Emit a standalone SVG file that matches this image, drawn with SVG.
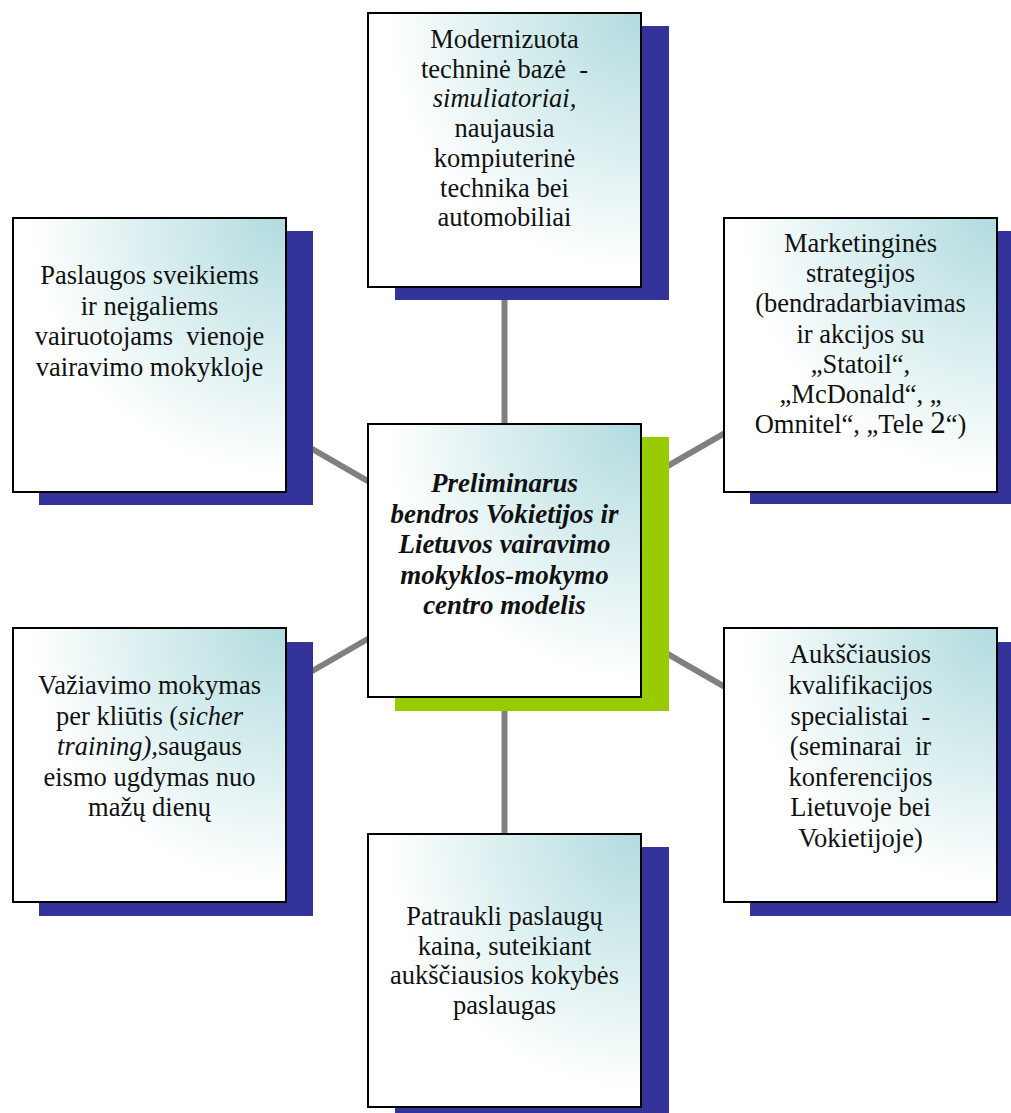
<svg xmlns="http://www.w3.org/2000/svg" width="1011" height="1113" viewBox="0 0 1011 1113">
<defs>
<radialGradient id="fill" cx="1" cy="0" r="1.1" gradientUnits="objectBoundingBox">
<stop offset="0" stop-color="#b1dbdf"/>
<stop offset="0.45" stop-color="#d9eeef"/>
<stop offset="0.85" stop-color="#ffffff"/>
</radialGradient>
</defs>
<style>
.box{fill:url(#fill);stroke:#000;stroke-width:2}
.sh{fill:#333399}
.shg{fill:#99cc00}
.conn{stroke:#808080;stroke-width:6;fill:none}
.t{font-family:'Liberation Serif',serif;font-size:26.5px;fill:#111;text-anchor:middle}
.c .t{font-weight:bold;font-style:italic;font-size:27px}
.i{font-style:italic}
</style>
<rect width="1011" height="1113" fill="#fff"/>
<g id="connectors">
<line class="conn" x1="504.5" y1="560" x2="504.5" y2="150"/>
<line class="conn" x1="504.5" y1="560" x2="504.5" y2="970"/>
<line class="conn" x1="504.5" y1="560" x2="149.5" y2="355"/>
<line class="conn" x1="504.5" y1="560" x2="860.5" y2="355"/>
<line class="conn" x1="504.5" y1="560" x2="149.5" y2="765"/>
<line class="conn" x1="504.5" y1="560" x2="860.5" y2="765"/>
</g>
<g id="node-top">
<rect class="sh" x="395" y="26" width="274" height="274"/>
<rect class="box" x="368" y="13" width="273" height="274"/>
<text class="t" xml:space="preserve"><tspan x="504.5" y="48">Modernizuota</tspan><tspan x="504.5" y="77.7">techninė bazė  -</tspan><tspan x="504.5" y="107.4" class="i">simuliatoriai,</tspan><tspan x="504.5" y="137.1">naujausia</tspan><tspan x="504.5" y="166.8">kompiuterinė</tspan><tspan x="504.5" y="196.5">technika bei</tspan><tspan x="504.5" y="226.2">automobiliai</tspan></text>
</g>
<g id="node-top-left">
<rect class="sh" x="39" y="231" width="274" height="274"/>
<rect class="box" x="13" y="218" width="273" height="274"/>
<text class="t" xml:space="preserve"><tspan x="149.5" y="284">Paslaugos sveikiems</tspan><tspan x="149.5" y="314.5">ir neįgaliems</tspan><tspan x="149.5" y="345">vairuotojams  vienoje</tspan><tspan x="149.5" y="375.5">vairavimo mokykloje</tspan></text>
</g>
<g id="node-top-right">
<rect class="sh" x="750" y="231" width="274" height="273"/>
<rect class="box" x="724" y="218" width="273" height="274"/>
<text class="t" xml:space="preserve"><tspan x="860.5" y="252">Marketinginės</tspan><tspan x="860.5" y="282.2">strategijos</tspan><tspan x="860.5" y="312.4">(bendradarbiavimas</tspan><tspan x="860.5" y="342.6">ir akcijos su</tspan><tspan x="860.5" y="372.8">„Statoil“,</tspan><tspan x="860.5" y="403">„McDonald“, „</tspan><tspan x="860.5" y="433.2">Omnitel“, „Tele <tspan font-size="31">2</tspan>“)</tspan></text>
</g>
<g id="node-center" class="c">
<rect class="shg" x="395" y="437" width="274" height="274"/>
<rect class="box" x="368" y="424" width="273" height="273"/>
<text class="t"><tspan x="504.5" y="492">Preliminarus</tspan><tspan x="504.5" y="522.5">bendros Vokietijos ir</tspan><tspan x="504.5" y="553">Lietuvos vairavimo</tspan><tspan x="504.5" y="583.5">mokyklos-mokymo</tspan><tspan x="504.5" y="614">centro modelis</tspan></text>
</g>
<g id="node-bottom-left">
<rect class="sh" x="39" y="642" width="274" height="274"/>
<rect class="box" x="13" y="628" width="273" height="274"/>
<text class="t"><tspan x="149.5" y="694">Važiavimo mokymas</tspan><tspan x="149.5" y="724.5">per kliūtis (<tspan class="i">sicher</tspan></tspan><tspan x="149.5" y="755"><tspan class="i">training),</tspan>saugaus</tspan><tspan x="149.5" y="785.5">eismo ugdymas nuo</tspan><tspan x="149.5" y="816">mažų dienų</tspan></text>
</g>
<g id="node-bottom-right">
<rect class="sh" x="750" y="642" width="274" height="274"/>
<rect class="box" x="724" y="628" width="273" height="274"/>
<text class="t" xml:space="preserve"><tspan x="860.5" y="663.3">Aukščiausios</tspan><tspan x="860.5" y="693.9">kvalifikacijos</tspan><tspan x="860.5" y="724.5">specialistai  -</tspan><tspan x="860.5" y="755.1">(seminarai  ir</tspan><tspan x="860.5" y="785.7">konferencijos</tspan><tspan x="860.5" y="816.3">Lietuvoje bei</tspan><tspan x="860.5" y="846.9">Vokietijoje)</tspan></text>
</g>
<g id="node-bottom">
<rect class="sh" x="395" y="847" width="274" height="274"/>
<rect class="box" x="368" y="834" width="273" height="273"/>
<text class="t"><tspan x="504.5" y="925">Patraukli paslaugų</tspan><tspan x="504.5" y="954.7">kaina, suteikiant</tspan><tspan x="504.5" y="984.4">aukščiausios kokybės</tspan><tspan x="504.5" y="1014">paslaugas</tspan></text>
</g>
</svg>
